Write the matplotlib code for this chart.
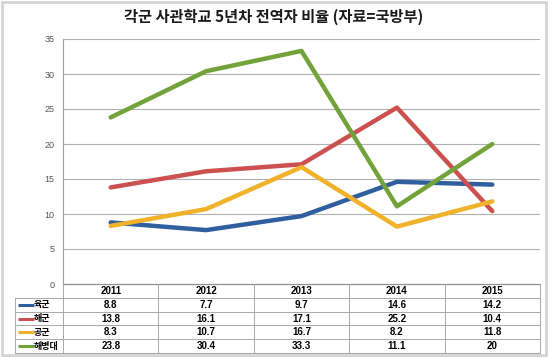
import matplotlib
matplotlib.use("Agg")
import matplotlib.pyplot as plt
from matplotlib.patches import Rectangle

plt.rcParams['font.family'] = ['Noto Sans CJK KR', 'DejaVu Sans']

title = "각군 사관학교 5년차 전역자 비율 (자료=국방부)"
years = ["2011", "2012", "2013", "2014", "2015"]
series_names = ["육군", "해군", "공군", "해병대"]
army = [8.8, 7.7, 9.7, 14.6, 14.2]
navy = [13.8, 16.1, 17.1, 25.2, 10.4]
airforce = [8.3, 10.7, 16.7, 8.2, 11.8]
marines = [23.8, 30.4, 33.3, 11.1, 20]
series_values = [army, navy, airforce, marines]
table_labels = [["8.8", "7.7", "9.7", "14.6", "14.2"],
                ["13.8", "16.1", "17.1", "25.2", "10.4"],
                ["8.3", "10.7", "16.7", "8.2", "11.8"],
                ["23.8", "30.4", "33.3", "11.1", "20"]]
colors = ["#2F5F9E", "#CC5050", "#F0B22A", "#72A23A"]
yticks = [0, 5, 10, 15, 20, 25, 30, 35]

W, H = 550, 358
fig = plt.figure(figsize=(W/100, H/100), dpi=100)

def fx(px):
    return px / W
def fy(py):
    return 1 - py / H

# outer frame
fig.patches.append(Rectangle((fx(2), fy(355)), fx(544), (353)/H, transform=fig.transFigure,
                             fill=False, edgecolor="#D4D4D4", lw=2.0))

fig.text(fx(274), fy(17), title, ha="center", va="center", fontsize=11,
         fontweight="bold", color="#1a1a1a")

L, R, T, B = 63, 540, 39, 284
ax = fig.add_axes([fx(L), fy(B), (R-L)/W, (B-T)/H])
x = list(range(len(years)))
for vals, c in zip(series_values, colors):
    ax.plot(x, vals, color=c, lw=3.2, solid_capstyle="round", solid_joinstyle="round", zorder=3)
ax.set_xlim(-0.5, len(years) - 0.5)
ax.set_ylim(0, 35)
ax.set_yticks(yticks)
ax.set_yticklabels([str(v) for v in yticks], fontsize=6.5, color="#555555",
                   family=["Liberation Sans", "DejaVu Sans"])
ax.tick_params(axis="y", length=0, pad=6)
ax.set_xticks([])
for v in yticks[1:]:
    ax.axhline(v, color="#B0B0B0", lw=0.8, zorder=1)
for s in ["top", "right", "bottom"]:
    ax.spines[s].set_visible(False)
ax.spines["left"].set_color("#A0A0A0")
ax.spines["left"].set_linewidth(0.8)

# data table
TL, TB = 15, 353
tax = fig.add_axes([fx(TL), fy(TB), (R-TL)/W, (TB-B)/H])
col0 = -0.5 - (L - TL) / ((R - L) / len(years))
tax.set_xlim(col0, len(years) - 0.5)
tax.set_ylim(5, 0)
tax.axis("off")
gc = "#A8A8A8"
tax.plot([-0.5, len(years) - 0.5], [0, 0], color="#909090", lw=0.9, clip_on=False)
for r in range(1, 6):
    tax.plot([col0, len(years) - 0.5], [r, r], color=gc, lw=0.7, clip_on=False)
tax.plot([col0, col0], [1, 5], color=gc, lw=0.7, clip_on=False)
for i in range(len(years) + 1):
    tax.plot([i - 0.5, i - 0.5], [0, 5], color=gc, lw=0.7, clip_on=False)
for i, yr in enumerate(years):
    tax.text(i, 0.5, yr, ha="center", va="center", fontsize=7, fontweight="bold",
             family=["Liberation Sans", "DejaVu Sans"])
for r, (name, c, labs) in enumerate(zip(series_names, colors, table_labels)):
    yy = r + 1.5
    tax.plot([col0 + 0.03, col0 + 0.2], [yy, yy], color=c, lw=2.2, solid_capstyle="butt")
    tax.text(col0 + 0.2, yy, name, ha="left", va="center", fontsize=6.5, fontweight="bold")
    for i, t in enumerate(labs):
        tax.text(i, yy, t, ha="center", va="center", fontsize=7, fontweight="bold",
                 family=["Liberation Sans", "DejaVu Sans"])

fig.savefig("out.png", dpi=100)
